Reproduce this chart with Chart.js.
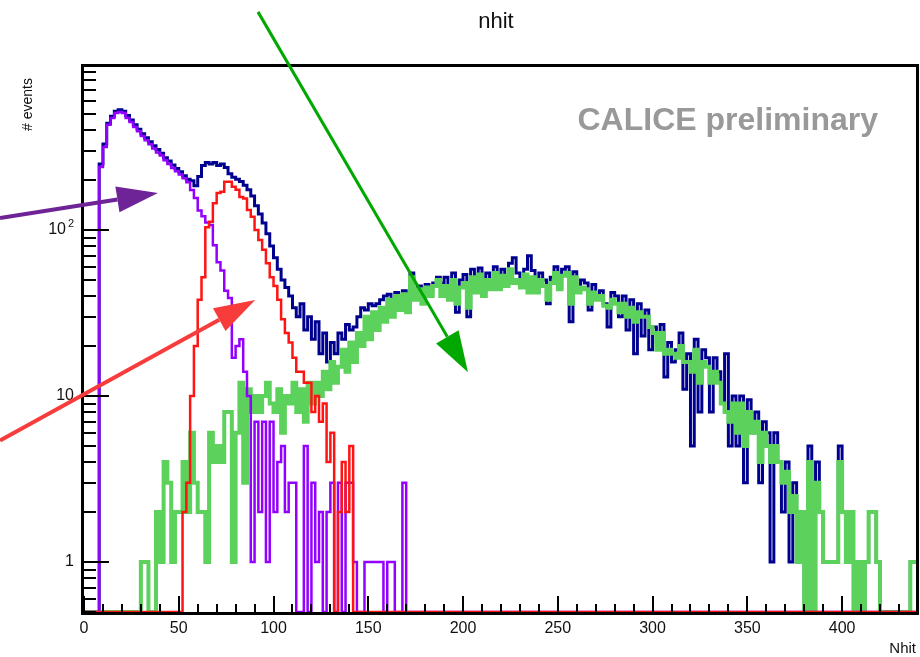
<!DOCTYPE html>
<html>
<head>
<meta charset="utf-8">
<script src="https://cdn.jsdelivr.net/npm/chart.js@4"></script>
<style>
  body { margin: 0; background: #fff; }
  canvas { display: block; }
</style>
</head>
<body>
<canvas id="graficoNhit" width="920" height="657"></canvas>
<script>
// Histogramas de nhit, bins de 2 unidades
const anchoBin = 2;
const numBins = 220;
const ejeXMin = 0, ejeXMax = 439;
const ejeYMin = 0.5, ejeYMax = 959;

// total (azul oscuro), empieza en nhit = 8
const totalInicio = 8;
const totalEventos = [250, 330, 440, 485, 520, 530, 520, 490, 460, 430, 405, 380, 360, 340, 322, 305, 290, 272, 260, 246,
  235, 224, 212, 202, 198, 185, 210, 245, 255, 250, 255, 245, 250, 238, 218, 208, 202, 196, 186, 175,
  160, 140, 125, 110, 95, 80, 68, 58, 50, 45, 40, 34, 30, 36, 25, 30, 22, 28, 18, 24,
  16, 21, 18, 24, 22, 27, 25, 26, 30, 34, 33, 36, 35, 36, 38, 40, 41, 38, 42, 40,
  43, 41, 55, 44, 46, 43, 47, 44, 48, 52, 48, 52, 40, 55, 32, 50, 54, 30, 58, 45,
  59, 42, 55, 48, 60, 45, 58, 50, 63, 68, 55, 48, 58, 70, 57, 42, 55, 50, 36, 52,
  60, 45, 58, 60, 28, 56, 45, 50, 48, 33, 47, 40, 43, 36, 26, 42, 40, 30, 40, 25,
  38, 18, 36, 23, 33, 19, 26, 21, 27, 13, 21, 16, 19, 24, 11, 18, 5, 22, 8, 19,
  17, 8, 17, 14, 9, 18, 5, 10, 5, 10, 3, 9.5, 6, 8, 3, 7, 6, 1, 6, 4,
  2, 4, 1, 3, 1, 2, 0, 5, 0, 4, 2, 1, 1, 1, 1, 5, 2, 1, 2, 0,
  1, 0, 1, 2, 2, 1, 0, 0, 0, 0, 0, 0, 0, 0, 1, 1];

// violeta, empieza en nhit = 8
const violetaInicio = 8;
const violetaEventos = [240, 316, 430, 473, 507, 514, 507, 473, 447, 417, 394, 368, 347, 328, 310, 293, 281, 263, 250, 236,
  226, 216, 205, 194, 174, 156, 131, 121, 111, 107, 81, 64, 57, 43, 39, 17, 20, 22, 14, 10,
  1, 7, 2, 7, 1, 7, 2, 4, 5, 2, 3, 3, 0, 0, 5, 0, 3, 1, 2, 0,
  2, 3, 0, 3, 0, 3, 3, 1, 0, 0, 1, 1, 1, 1, 1, 0, 1, 1, 0, 0,
  3, 0];

// rojo, empieza en nhit = 52
const rojoInicio = 52;
const rojoEventos = [2, 3, 10, 20, 38, 52, 104, 112, 145, 167, 170, 195, 195, 182, 175, 158, 155, 132, 120, 100,
  87, 76, 63, 52, 46, 38, 29, 24, 21, 17, 14, 14, 12, 12, 8, 10, 7, 9, 4, 6,
  0, 2, 4, 2, 5];

// verde, empieza en nhit = 30
const verdeInicio = 30;
const verdeEventos = [1, 1, 0, 0, 2, 1, 4, 3, 1, 2, 2, 4, 2, 6, 3, 2, 2, 1, 6, 4,
  5, 4, 8, 8, 1, 6, 12, 3, 11, 8, 10, 8, 10, 12, 9, 8, 11, 6, 10, 9,
  12, 8, 11, 7, 12, 9, 12, 10, 14, 11, 16, 12, 15, 19, 14, 21, 16, 24, 20, 30,
  22, 32, 25, 34, 28, 38, 30, 40, 33, 41, 32, 52, 38, 44, 36, 45, 40, 46, 50, 40,
  46, 38, 50, 36, 45, 48, 34, 52, 42, 54, 40, 50, 44, 55, 44, 53, 46, 58, 48, 50,
  45, 54, 42, 52, 42, 50, 46, 38, 48, 55, 44, 53, 55, 36, 52, 42, 45, 44, 36, 42,
  38, 40, 35, 34, 38, 36, 32, 36, 30, 34, 28, 32, 30, 30, 26, 24, 19, 24, 18, 19,
  18, 17, 20, 16, 16, 14, 19, 12, 16, 15, 12, 14, 12, 9, 8, 7, 9, 6, 9, 5,
  8, 6, 7, 4, 6, 5, 4, 5, 4, 3, 3.5, 2, 2.5, 1, 2, 0, 4, 0, 3, 2,
  1, 1, 1, 1, 4, 2, 1, 2, 0, 1, 0, 1, 2, 2, 1, 0, 0, 0, 0, 0,
  0, 0, 0, 1, 1];

// etiquetas de los ejes
const ticksX = [0, 50, 100, 150, 200, 250, 300, 350, 400];
const ticksY = [1, 10, 100];
const etiquetasY = ['1', '10', '10|2'];

// flechas de anotacion (en coordenadas nhit / eventos)
const flechas = [
  { color: 'rgb(110,35,150)', desde: [-44.3, 118], hasta: [39, 167], grosor: 4 },
  { color: 'rgb(248,60,60)', desde: [-44.3, 5.4], hasta: [90.3, 37.9], grosor: 4 },
  { color: 'rgb(0,168,0)', desde: [91.8, 2060], hasta: [202.6, 13.9], grosor: 3 }
];

// convierte una lista de bins en puntos escalonados (los ceros van al fondo del eje)
function histograma(inicio, valores) {
  const puntos = [];
  for (let i = 0; i < numBins; i++) {
    const x = i * anchoBin;
    const k = (x - inicio) / anchoBin;
    const v = (k >= 0 && k < valores.length) ? valores[k] : 0;
    puntos.push({ x: x, y: Math.max(v, ejeYMin) });
  }
  puntos.push({ x: numBins * anchoBin, y: puntos[puntos.length - 1].y });
  return puntos;
}

function serie(nombre, inicio, valores, color, ancho) {
  return {
    label: nombre,
    data: histograma(inicio, valores),
    borderColor: color,
    borderWidth: ancho,
    stepped: true,
    pointRadius: 0,
    fill: false,
    borderJoinStyle: 'miter',
    borderCapStyle: 'butt'
  };
}

// marco, marcas y textos al estilo ROOT
const marcoRoot = {
  id: 'marcoRoot',
  beforeDatasetsDraw(chart) {
    const c = chart.ctx;
    const a = chart.chartArea;
    c.save();
    c.strokeStyle = '#000';
    c.lineWidth = 3;
    c.strokeRect(a.left - 1.5, a.top - 1.5, a.right - a.left + 3, a.bottom - a.top + 3);
    c.restore();
  },
  afterDatasetsDraw(chart) {
    const c = chart.ctx;
    const a = chart.chartArea;
    const sx = chart.scales.x;
    const sy = chart.scales.y;
    c.save();
    c.strokeStyle = '#000';
    c.lineWidth = 2;
    // marcas eje x
    for (let v = 0; v <= ejeXMax; v += 10) {
      const px = Math.round(sx.getPixelForValue(v));
      const largo = (v % 50 === 0) ? 16 : 8;
      c.beginPath();
      c.moveTo(px, a.bottom);
      c.lineTo(px, a.bottom - largo);
      c.stroke();
    }
    // marcas eje y (logaritmico)
    for (let d = 0.1; d < ejeYMax; d *= 10) {
      for (let m = 1; m <= 9; m++) {
        const v = Math.round(d * m * 1000) / 1000;
        if (v < ejeYMin || v > ejeYMax) continue;
        const py = Math.round(sy.getPixelForValue(v));
        const largo = (m === 1) ? 25 : 12;
        c.beginPath();
        c.moveTo(a.left, py);
        c.lineTo(a.left + largo, py);
        c.stroke();
      }
    }
    c.restore();
  },
  afterDraw(chart) {
    const c = chart.ctx;
    const a = chart.chartArea;
    const sx = chart.scales.x;
    const sy = chart.scales.y;
    c.save();
    c.fillStyle = '#111';
    c.textBaseline = 'middle';
    c.font = '16px "Liberation Sans", Arial, sans-serif';
    c.textAlign = 'center';
    for (const v of ticksX) {
      c.fillText(String(v), sx.getPixelForValue(v), a.bottom + 17);
    }
    c.textAlign = 'right';
    ticksY.forEach((v, i) => {
      const py = sy.getPixelForValue(v);
      const partes = etiquetasY[i].split('|');
      if (partes.length > 1) {
        c.font = '11px "Liberation Sans", Arial, sans-serif';
        c.fillText(partes[1], a.left - 10, py - 6);
        c.font = '16px "Liberation Sans", Arial, sans-serif';
        c.fillText(partes[0], a.left - 18, py);
      } else {
        c.fillText(partes[0], a.left - 10, py);
      }
    });
    // titulo
    c.textAlign = 'center';
    c.font = '22px "Liberation Sans", Arial, sans-serif';
    c.fillText('nhit', 496, 22);
    // titulos de ejes
    c.font = '15px "Liberation Sans", Arial, sans-serif';
    c.textAlign = 'right';
    c.fillText('Nhit', a.right, 649);
    c.save();
    c.translate(28, 78);
    c.rotate(-Math.PI / 2);
    c.textAlign = 'right';
    c.font = '14px "Liberation Sans", Arial, sans-serif';
    c.fillText('# events', 0, 0);
    c.restore();
    // texto preliminar
    c.fillStyle = '#999';
    c.font = 'bold 32px "Liberation Sans", Arial, sans-serif';
    c.textAlign = 'right';
    c.fillText('CALICE preliminary', 878, 121);
    // flechas
    for (const f of flechas) {
      const x0 = sx.getPixelForValue(f.desde[0]);
      const y0 = sy.getPixelForValue(f.desde[1]);
      const x1 = sx.getPixelForValue(f.hasta[0]);
      const y1 = sy.getPixelForValue(f.hasta[1]);
      const ang = Math.atan2(y1 - y0, x1 - x0);
      const largo = 41, mitad = 13;
      const bx = x1 - largo * Math.cos(ang);
      const by = y1 - largo * Math.sin(ang);
      c.strokeStyle = f.color;
      c.fillStyle = f.color;
      c.lineWidth = f.grosor;
      c.beginPath();
      c.moveTo(x0, y0);
      c.lineTo(bx, by);
      c.stroke();
      c.beginPath();
      c.moveTo(x1, y1);
      c.lineTo(bx + mitad * Math.sin(ang), by - mitad * Math.cos(ang));
      c.lineTo(bx - mitad * Math.sin(ang), by + mitad * Math.cos(ang));
      c.closePath();
      c.fill();
    }
    c.restore();
  }
};

const ctx = document.getElementById('graficoNhit').getContext('2d');

const chart = new Chart(ctx, {
  type: 'line',
  data: {
    // el primero se dibuja encima
    datasets: [
      serie('rojo', rojoInicio, rojoEventos, '#ff1414', 2.5),
      serie('violeta', violetaInicio, violetaEventos, '#9400ff', 2.5),
      serie('verde', verdeInicio, verdeEventos, '#5cd25c', 4),
      serie('total', totalInicio, totalEventos, '#000090', 3)
    ]
  },
  options: {
    responsive: false,
    animation: false,
    events: [],
    layout: { padding: { left: 84, right: 4, top: 67, bottom: 45 } },
    scales: {
      x: { type: 'linear', min: ejeXMin, max: ejeXMax, display: false },
      y: { type: 'logarithmic', min: ejeYMin, max: ejeYMax, display: false }
    },
    plugins: {
      legend: { display: false },
      tooltip: { enabled: false },
      title: { display: false }
    }
  },
  plugins: [marcoRoot]
});
</script>
</body>
</html>
